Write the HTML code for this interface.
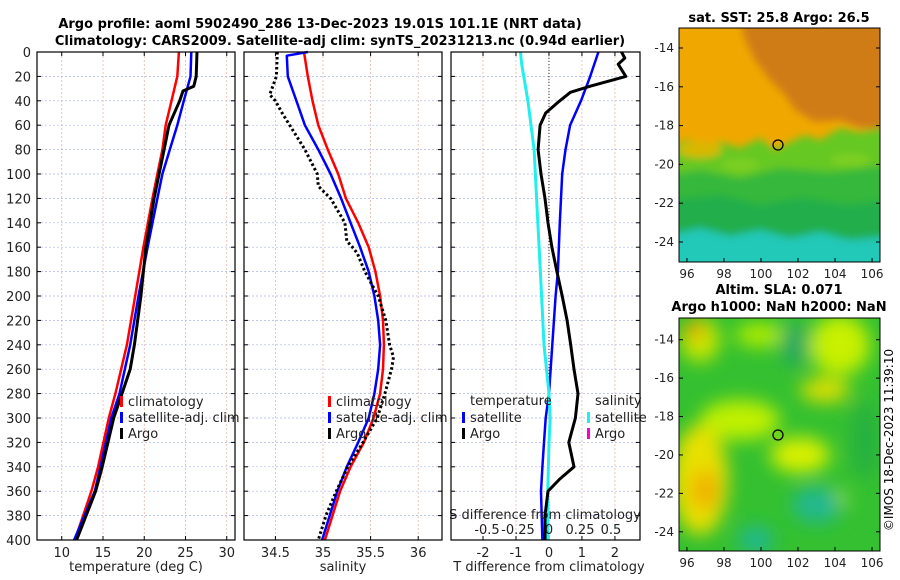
<!DOCTYPE html>
<html><head><meta charset="utf-8"><style>
body{margin:0;background:#fff;}
svg{display:block;font-family:"DejaVu Sans","Liberation Sans",sans-serif;}
</style></head><body>
<svg id="c" width="900" height="580" viewBox="0 0 900 580">
<defs>
<filter id="bl" x="-20%" y="-20%" width="140%" height="140%"><feGaussianBlur stdDeviation="4"/></filter>
<filter id="bl2" x="-20%" y="-20%" width="140%" height="140%"><feGaussianBlur stdDeviation="9"/></filter>
<clipPath id="cm1"><rect x="679" y="28" width="201" height="234"/></clipPath>
<clipPath id="cm2"><rect x="679" y="318" width="201" height="233"/></clipPath>
</defs>
<text x="320" y="28" font-size="13" font-weight="bold" text-anchor="middle">Argo profile: aoml 5902490_286 13-Dec-2023 19.01S 101.1E (NRT data)</text>
<text x="340" y="45" font-size="13" font-weight="bold" text-anchor="middle">Climatology: CARS2009. Satellite-adj clim: synTS_20231213.nc (0.94d earlier)</text>
<g id="p1"></g>
<g id="p2"></g>
<g id="p3"></g>

<g>
<text x="779" y="22" font-size="13" font-weight="bold" text-anchor="middle">sat. SST: 25.8 Argo: 26.5</text>
<g clip-path="url(#cm1)">
<rect x="679" y="28" width="201" height="234" fill="#f0a800"/>
<g filter="url(#bl)">
<path d="M740,20 L890,20 L890,130 L860,128 L840,120 L815,122 L795,110 L785,95 L770,80 L755,60 L745,40Z" fill="#d07c18"/>
<path d="M670,145 L690,140 L705,150 L720,142 L740,148 L760,138 L775,150 L790,142 L805,135 L820,140 L840,128 L860,132 L890,126 L890,270 L670,270Z" fill="#66c820"/>
<path d="M670,175 L700,170 L740,178 L780,168 L830,172 L890,165 L890,270 L670,270Z" fill="#34b83a"/>
<path d="M670,200 L720,195 L760,205 L800,198 L850,205 L890,200 L890,270 L670,270Z" fill="#22ae4c"/>
<path d="M670,235 L700,228 L730,236 L760,230 L790,238 L820,232 L850,240 L890,236 L890,270 L670,270Z" fill="#22c8b8"/>
<ellipse cx="700" cy="150" rx="22" ry="8" fill="#d8b800"/>
<ellipse cx="740" cy="165" rx="18" ry="6" fill="#7ed020"/>
<ellipse cx="850" cy="160" rx="20" ry="6" fill="#7ed020"/>
</g>
</g>
<rect x="679" y="28" width="201" height="234" fill="none" stroke="#000"/>
<circle cx="778" cy="145" r="5" fill="none" stroke="#000" stroke-width="1.3"/>
<g id="m1ax" font-size="12"></g>
</g>

<g>
<text x="779" y="294" font-size="13" font-weight="bold" text-anchor="middle">Altim. SLA: 0.071</text>
<text x="779" y="311" font-size="13" font-weight="bold" text-anchor="middle">Argo h1000: NaN h2000: NaN</text>
<g clip-path="url(#cm2)">
<rect x="679" y="318" width="201" height="233" fill="#34c030"/>
<g filter="url(#bl2)">
<ellipse cx="700" cy="340" rx="20" ry="22" fill="#c8e800"/>
<ellipse cx="695" cy="330" rx="10" ry="10" fill="#e8a000"/>
<ellipse cx="760" cy="335" rx="25" ry="12" fill="#b0ec00"/>
<ellipse cx="840" cy="345" rx="30" ry="30" fill="#c8f000"/>
<ellipse cx="825" cy="390" rx="25" ry="12" fill="#e0e000"/>
<ellipse cx="740" cy="420" rx="40" ry="20" fill="#c0f000"/>
<ellipse cx="700" cy="480" rx="28" ry="55" fill="#e8e000"/>
<ellipse cx="705" cy="490" rx="14" ry="20" fill="#f0b000"/>
<ellipse cx="800" cy="455" rx="30" ry="18" fill="#d8f000"/>
<ellipse cx="830" cy="500" rx="18" ry="10" fill="#c0f000"/>
<ellipse cx="817" cy="505" rx="25" ry="18" fill="#20b890"/>
<ellipse cx="756" cy="540" rx="18" ry="14" fill="#20b890"/>
<ellipse cx="795" cy="345" rx="14" ry="22" fill="#20a860"/>
<ellipse cx="865" cy="440" rx="14" ry="40" fill="#28b040"/>
</g>
</g>
<rect x="679" y="318" width="201" height="233" fill="none" stroke="#000"/>
<circle cx="778" cy="435" r="5" fill="none" stroke="#000" stroke-width="1.3"/>
<g id="m2ax" font-size="12"></g>
</g>
<text transform="translate(893,440) rotate(-90)" font-size="12" text-anchor="middle">©IMOS 18-Dec-2023 11:39:10</text>
</svg>
<script>
// ---------- data ----------
const depthTicks=[0,20,40,60,80,100,120,140,160,180,200,220,240,260,280,300,320,340,360,380,400];
const tempTicks=[10,15,20,25,30];
const salTicks=[34.5,35,35.5,36];
const salTickLabels=["34.5","35","35.5","36"];
const tdTicks=[-2,-1,0,1,2];
const sdTicks=[-0.5,-0.25,0,0.25,0.5];
const sdTickLabels=["-0.5","-0.25","0","0.25","0.5"];

const climTDepth=[0,20,40,60,80,100,120,160,200,240,280,300,340,360,400];
const climT=[24.2,24.0,23.3,22.6,22.2,21.6,21.0,19.9,18.9,17.9,16.5,15.7,14.4,13.6,11.6];
const satTDepth=[0,20,30,40,60,80,100,120,160,200,240,280,300,340,360,400];
const satT=[25.7,25.6,25.2,24.8,24.0,23.1,22.2,21.6,20.4,19.3,18.3,17.0,16.0,14.7,14.0,11.5];
const argoTDepth=[0,20,28,32,40,60,80,100,120,160,200,240,260,280,300,340,360,400];
const argoT=[26.4,26.3,26.0,24.7,24.3,23.0,22.4,21.8,21.2,20.2,19.6,18.8,18.3,17.3,16.3,14.9,14.1,11.8];

const salDepth=[0,20,40,60,80,100,120,140,160,180,200,220,240,260,280,300,320,340,360,380,400];
const climS=[34.80,34.84,34.89,34.95,35.05,35.16,35.24,35.37,35.48,35.55,35.60,35.63,35.64,35.63,35.60,35.53,35.43,35.29,35.18,35.10,35.02];
const satSDepth=[0,3,20,40,60,80,100,120,140,160,180,200,220,240,260,280,300,320,340,360,380,400];
const satS=[34.84,34.62,34.63,34.72,34.81,34.95,35.08,35.19,35.29,35.39,35.48,35.54,35.58,35.60,35.58,35.54,35.48,35.37,35.25,35.15,35.07,34.99];
const argoSDepth=[0,20,35,40,50,60,80,100,110,120,140,155,160,165,180,200,220,240,250,260,280,300,320,340,360,380,400];
const argoS=[34.52,34.51,34.44,34.50,34.57,34.65,34.81,34.94,34.95,35.08,35.23,35.25,35.31,35.36,35.44,35.58,35.66,35.70,35.74,35.72,35.65,35.57,35.42,35.26,35.14,35.03,34.95];

const dTSatDepth=[0,20,40,60,80,100,140,180,200,240,280,300,320,340,360,400];
const dTSat=[1.5,1.25,0.97,0.64,0.5,0.4,0.33,0.27,0.2,0.1,0.0,-0.1,-0.15,-0.2,-0.24,-0.2];
const dTArgoDepth=[0,5,10,20,28,33,40,50,60,80,100,120,140,160,180,200,220,240,260,280,300,320,340,350,360,380,400];
const dTArgo=[2.2,2.3,2.1,2.33,1.25,0.65,0.33,-0.1,-0.27,-0.33,-0.24,-0.12,-0.03,0.09,0.24,0.4,0.55,0.66,0.76,0.88,0.8,0.6,0.76,0.33,-0.03,-0.12,-0.12];
const dSSatDepth=[0,10,40,80,120,160,200,240,280,300,320,360,400];
const dSSat=[-0.23,-0.22,-0.17,-0.12,-0.1,-0.08,-0.06,-0.04,0,0.01,0,-0.01,-0.01];

const lonTicks=[96,98,100,102,104,106];
const latTicks=[-14,-16,-18,-20,-22,-24];

// ---------- drawing ----------
const NS='http://www.w3.org/2000/svg';
function mk(tag,attrs,parent,txt){const e=document.createElementNS(NS,tag);for(const k in attrs)e.setAttribute(k,attrs[k]);if(txt!==undefined)e.textContent=txt;parent.appendChild(e);return e;}
const Y0=52,Y1=540;
const yD=d=>Y0+(Y1-Y0)*d/400;
function lin(d0,d1,r0,r1){return v=>r0+(v-d0)*(r1-r0)/(d1-d0);}

function panel(g,x0,x1,xs,ticks,labels,showDepth){
  mk('rect',{x:x0,y:Y0,width:x1-x0,height:Y1-Y0,fill:'#fff'},g);
  depthTicks.forEach(d=>{const l=mk('line',{x1:x0,x2:x1,y1:yD(d),y2:yD(d),stroke:'#aab4e8','stroke-width':0.7,'stroke-dasharray':'2,2'},g);
    
    
    mk('line',{x1:x0,x2:x0+4,y1:yD(d),y2:yD(d),stroke:'#000'},g);mk('line',{x1:x1-4,x2:x1,y1:yD(d),y2:yD(d),stroke:'#000'},g);
    if(showDepth){const t=mk('text',{x:x0-6,y:yD(d)+5,'font-size':13,'text-anchor':'end',fill:'#222'},g,String(d));
      
      }
  });
  ticks.forEach((v,i)=>{const x=xs(v);const l=mk('line',{x1:x,x2:x,y1:Y0,y2:Y1,stroke:'#e0b0a0','stroke-width':0.7,'stroke-dasharray':'2,2'},g);
    
    
    mk('line',{x1:x,x2:x,y1:Y1-4,y2:Y1,stroke:'#000'},g);mk('line',{x1:x,x2:x,y1:Y0,y2:Y0+4,stroke:'#000'},g);
    if(labels){const t=mk('text',{x:x,y:Y1+17,'font-size':13,'text-anchor':'middle',fill:'#222'},g,labels[i]);
      
      }
  });
}
function frame(g,x0,x1){const r=mk('rect',{x:x0,y:Y0,width:x1-x0,height:Y1-Y0,fill:'none',stroke:'#000','stroke-width':1.2},g);
  
  }
function line(g,xs,vals,deps,color,w,name,dash){
  const d=vals.map((v,i)=>(i?'L':'M')+xs(v).toFixed(1)+','+yD(deps[i]).toFixed(1)).join('');
  const p=mk('path',{d:d,fill:'none',stroke:color,'stroke-width':w,'stroke-linejoin':'round'},g);
  if(dash)p.setAttribute('stroke-dasharray',dash);
  
  
}
function legend(g,x,y,items){items.forEach((it,i)=>{
  mk('rect',{x:x,y:y+i*16-10,width:3,height:11,fill:it[1]},g);
  const t=mk('text',{x:x+8,y:y+i*16,'font-size':13,fill:'#222'},g,it[0]);
  
  
});}

// panel 1
const g1=document.getElementById('p1');
const xT=lin(7,31,37,235);
panel(g1,37,235,xT,tempTicks,tempTicks.map(String),true);
line(g1,xT,climT,climTDepth,'#ff0000',2.5,'climatology-temp-line');
line(g1,xT,satT,satTDepth,'#0000ff',2.5,'satellite-temp-line');
line(g1,xT,argoT,argoTDepth,'#000',3,'argo-temp-line');
legend(g1,120,406,[['climatology','#f00'],['satellite-adj. clim','#00f'],['Argo','#000']]);
frame(g1,37,235);
mk('text',{x:136,y:571,'font-size':13,'text-anchor':'middle',fill:'#222',},g1,'temperature (deg C)');

// panel 2
const g2=document.getElementById('p2');
const xS=lin(34.17,36.25,244,442);
panel(g2,244,442,xS,salTicks,salTickLabels,false);
line(g2,xS,climS,salDepth,'#ff0000',2.5,'climatology-salinity-line');
line(g2,xS,satS,satSDepth,'#0000ff',2.5,'satellite-salinity-line');
line(g2,xS,argoS,argoSDepth,'#000',3,'argo-salinity-line','2.5,2.5');
legend(g2,328,406,[['climatology','#f00'],['satellite-adj. clim','#00f'],['Argo','#000']]);
frame(g2,244,442);
mk('text',{x:343,y:571,'font-size':13,'text-anchor':'middle',fill:'#222',},g2,'salinity');

// panel 3
const g3=document.getElementById('p3');
const xTD=lin(-2.97,2.76,451,640);
const xSD=lin(-0.5,0.5,487,611);
panel(g3,451,640,xTD,tdTicks,tdTicks.map(String),false);
mk('line',{x1:xTD(0),x2:xTD(0),y1:Y0,y2:Y1,stroke:'#333','stroke-width':1,'stroke-dasharray':'1,2',},g3);
line(g3,xTD,dTSat,dTSatDepth,'#0000ff',2.5,'satellite-temp-diff-line');
line(g3,xSD,dSSat,dSSatDepth,'#22eeee',3,'satellite-salinity-diff-line');
line(g3,xTD,dTArgo,dTArgoDepth,'#000',3,'argo-temp-diff-line');
mk('text',{x:470,y:405,'font-size':13,fill:'#222',},g3,'temperature');
mk('text',{x:595,y:405,'font-size':13,fill:'#222',},g3,'salinity');
legend(g3,462,422,[['satellite','#00f'],['Argo','#000']]);
legend(g3,587,422,[['satellite','#2ee'],['Argo','#f0c']]);
mk('text',{x:545,y:519,'font-size':13,'text-anchor':'middle',fill:'#222',},g3,'S difference from climatology');
sdTicks.forEach((v,i)=>{const t=mk('text',{x:xSD(v),y:534,'font-size':13,'text-anchor':'middle',fill:'#222'},g3,sdTickLabels[i]);
  
  });
frame(g3,451,640);
mk('text',{x:549,y:571,'font-size':13,'text-anchor':'middle',fill:'#222',},g3,'T difference from climatology');

// map axes
function mapAxes(id,x0,x1,y0,y1,lat0,lat1){
  const g=document.getElementById(id);
  const xl=lin(95.57,106.43,x0,x1), yl=lin(lat0,lat1,y0,y1);
  lonTicks.forEach(v=>{mk('line',{x1:xl(v),x2:xl(v),y1:y1-4,y2:y1,stroke:'#000'},g);
    const t=mk('text',{x:xl(v),y:y1+16,'text-anchor':'middle',fill:'#222'},g,String(v));
    
    });
  latTicks.forEach(v=>{mk('line',{x1:x0,x2:x0+4,y1:yl(v),y2:yl(v),stroke:'#000'},g);mk('line',{x1:x1-4,x2:x1,y1:yl(v),y2:yl(v),stroke:'#000'},g);
    const t=mk('text',{x:x0-5,y:yl(v)+4,'text-anchor':'end',fill:'#222'},g,String(v));
    
    });
}
mapAxes('m1ax',679,880,28,262,-12.97,-25.03);
mapAxes('m2ax',679,880,318,551,-12.87,-25.0);
</script>
</body></html>
